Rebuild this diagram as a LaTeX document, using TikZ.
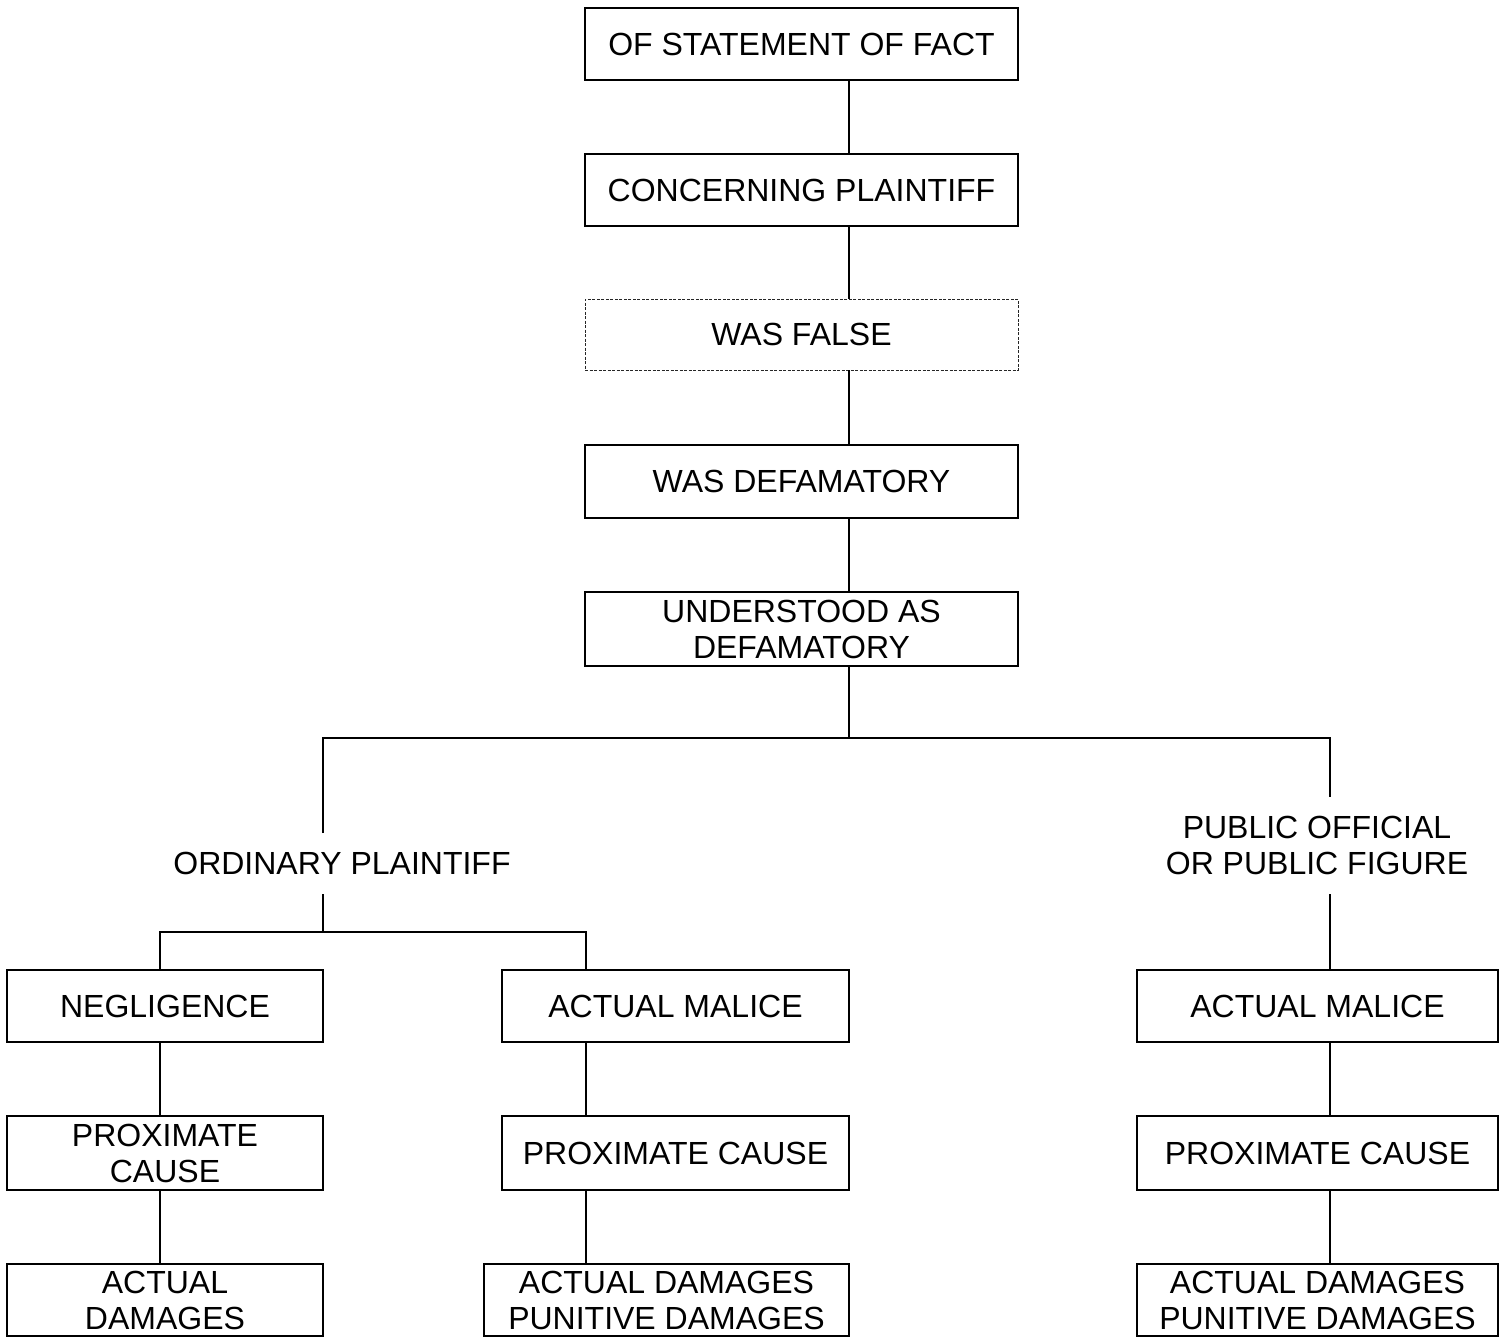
\documentclass[tikz,border=0pt]{standalone}
\usepackage{fontspec}
\setmainfont{Liberation Sans}
\begin{document}
\begin{tikzpicture}[x=1pt,y=-1pt,
  every node/.style={font=\fontsize{32}{36}\selectfont, inner sep=0pt, outer sep=0pt, align=center},
  box/.style={draw, line width=2pt},
  dbox/.style={draw=black!85, line width=1pt, dash pattern=on 3pt off 1.5pt},
  link/.style={line width=2pt}]
\useasboundingbox (0,0) rectangle (1507,1338);
% main column
\node[box, minimum width=433pt, minimum height=72pt] (b1) at (801.5,44) {OF STATEMENT OF FACT};
\node[box, minimum width=433pt, minimum height=72pt] (b2) at (801.5,190) {CONCERNING PLAINTIFF};
\node[dbox, minimum width=433pt, minimum height=71pt] (b3) at (801.5,334.5) {WAS FALSE};
\node[box, minimum width=433pt, minimum height=73pt] (b4) at (801.5,481.5) {WAS DEFAMATORY};
\node[box, minimum width=433pt, minimum height=74pt] (b5) at (801.5,629) {UNDERSTOOD AS\\DEFAMATORY};
% branch labels
\node[minimum width=10pt, minimum height=61pt] (ord) at (342,863.5) {ORDINARY PLAINTIFF};
\node[minimum width=10pt, minimum height=97pt] (pub) at (1317,845.5) {PUBLIC OFFICIAL\\OR PUBLIC FIGURE};
% left column
\node[box, minimum width=316pt, minimum height=72pt] (l1) at (165,1006) {NEGLIGENCE};
\node[box, minimum width=316pt, minimum height=74pt] (l2) at (165,1153) {PROXIMATE\\CAUSE};
\node[box, minimum width=316pt, minimum height=72pt] (l3) at (165,1300) {ACTUAL\\DAMAGES};
% middle column
\node[box, minimum width=347pt, minimum height=72pt] (m1) at (675.5,1006) {ACTUAL MALICE};
\node[box, minimum width=347pt, minimum height=74pt] (m2) at (675.5,1153) {PROXIMATE CAUSE};
\node[box, minimum width=365pt, minimum height=72pt] (m3) at (666.5,1300) {ACTUAL DAMAGES\\PUNITIVE DAMAGES};
% right column
\node[box, minimum width=361pt, minimum height=72pt] (r1) at (1317.5,1006) {ACTUAL MALICE};
\node[box, minimum width=361pt, minimum height=74pt] (r2) at (1317.5,1153) {PROXIMATE CAUSE};
\node[box, minimum width=361pt, minimum height=72pt] (r3) at (1317.5,1300) {ACTUAL DAMAGES\\PUNITIVE DAMAGES};
% connector guides
\coordinate (sp) at (849,0);
\coordinate (co) at (323,0);
\coordinate (cl) at (160,0);
\coordinate (cm) at (586,0);
\coordinate (cr) at (1330,0);
\coordinate (bar) at (0,738);
\coordinate (bar2) at (0,932);
% connectors
\draw[link] (b1.south -| sp) -- (b2.north -| sp);
\draw[link] (b2.south -| sp) -- (b3.north -| sp);
\draw[link] (b3.south -| sp) -- (b4.north -| sp);
\draw[link] (b4.south -| sp) -- (b5.north -| sp);
\draw[link] (b5.south -| sp) -- (bar -| sp);
\draw[link] (ord.north -| co) |- (bar -| cr) -- (pub.north -| cr);
\draw[link] (ord.south -| co) -- (bar2 -| co);
\draw[link] (l1.north -| cl) |- (bar2 -| cm) -- (m1.north -| cm);
\draw[link] (pub.south -| cr) -- (r1.north -| cr);
\draw[link] (l1.south -| cl) -- (l2.north -| cl);
\draw[link] (l2.south -| cl) -- (l3.north -| cl);
\draw[link] (m1.south -| cm) -- (m2.north -| cm);
\draw[link] (m2.south -| cm) -- (m3.north -| cm);
\draw[link] (r1.south -| cr) -- (r2.north -| cr);
\draw[link] (r2.south -| cr) -- (r3.north -| cr);
\end{tikzpicture}
\end{document}
